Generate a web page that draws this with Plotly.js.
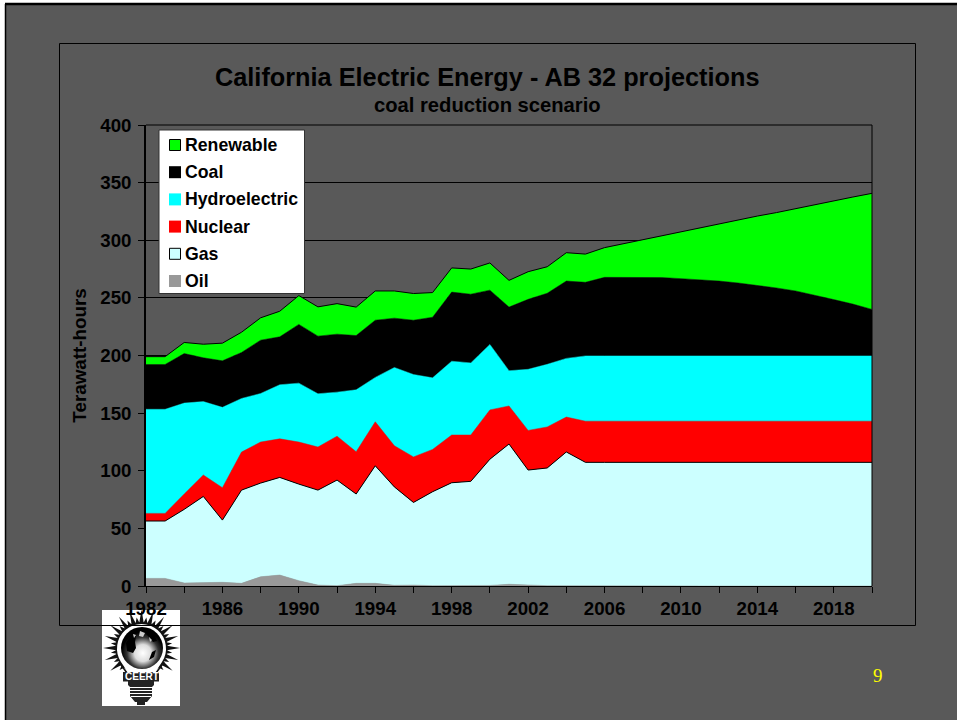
<!DOCTYPE html>
<html><head><meta charset="utf-8">
<script src="https://cdn.plot.ly/plotly-3.0.1.min.js"></script>
<style>html,body{margin:0;padding:0;background:#fff}#c{width:957px;height:720px}</style></head>
<body><div id="c"></div>
<script>
var years = [];
for (var yr = 1982; yr <= 2020; yr++) years.push(yr);
var tickYears = [1982,1984,1986,1988,1990,1992,1994,1996,1998,2000,2002,2004,2006,2008,2010,2012,2014,2016,2018,2020];
var labelYears = [1982,1986,1990,1994,1998,2002,2006,2010,2014,2018];
var oil = [6.6,6.6,2.6,2.6,3.2,2.3,8,9.5,4.6,0.8,0.3,2.3,2.3,0.6,0.8,0.3,0.2,0.2,0.5,1.5,0.8,0.3,0.2,0.1,0,0,0,0,0,0,0,0,0,0,0,0,0,0,0];
var gas = [49.8,49.8,63.9,75.1,54,80.9,81.3,84.7,83.8,82.4,91.6,77.5,102,85.4,71.7,81.5,89.4,90.6,109.5,121.7,99.8,102.1,116.1,107.2,107.3,107.3,107.3,107.3,107.3,107.3,107.3,107.3,107.3,107.3,107.3,107.3,107.3,107.3,107.3];
var nuclear = [6.6,6.6,13.3,18.6,28.1,33,35.6,33.5,36.5,37.4,38.1,36.7,38.2,35.7,39.5,36.7,41.4,40.2,42.8,33,34.4,35.6,30.3,35.7,35.7,35.7,35.7,35.7,35.7,35.7,35.7,35.7,35.7,35.7,35.7,35.7,35.7,35.7,35.7];
var hydro = [90.3,90.3,78.9,63.7,69.7,46.5,42.1,46.9,51.1,46.2,38.2,53.7,38.5,67.9,71.5,62.1,64,62.6,56.8,30.6,53,54.3,50.9,56.6,56.6,56.6,56.6,56.6,56.6,56.6,56.6,56.6,56.6,56.6,56.6,56.6,56.6,56.6,56.6];
var coal = [38.9,38.9,43,38,40.4,39.9,46.3,41.6,51,50,50.3,47.1,49.6,42.8,47.1,52.6,60,59.6,47.1,55.2,60.7,61.7,67.1,63.9,68.2,68.3,68.2,68,67.1,66.2,65,63.3,61.3,59,56.4,52.9,48.9,45,40.4];
var renewable = [6.8,6.8,9.6,11.8,15.3,17.6,19.4,22.2,25,25.4,26.5,24.7,25.4,23.6,23.2,21.4,21,21.8,23.6,23.2,24,23,24.6,24.5,25.8,29.1,32.7,36.4,40.8,45.2,49.9,55.1,60.1,65.4,71.5,78.5,85.5,92.9,100.7];
var seriesNames = ["Oil","Gas","Nuclear","Hydroelectric","Coal","Renewable"];
var seriesValues = [oil,gas,nuclear,hydro,coal,renewable];
var seriesColors = ["#999999","#ccffff","#ff0000","#00ffff","#000000","#00ff00"];
var seriesOutlined = [false,true,false,false,false,true];

var BG = "#595959", INK = "#000000", FONT = "'Liberation Sans', Arial, sans-serif";
var L = 146, R = 872, T = 125, B = 586;
function px(x){ return (x - L) / (R - L); }
function py(y){ return (B - y) / (B - T); }

var traces = seriesNames.map(function(n, i){
  return {
    x: years, y: seriesValues[i], name: n, type: "scatter", mode: "lines",
    stackgroup: "one", fillcolor: seriesColors[i],
    line: {color: seriesOutlined[i] ? "#000000" : seriesColors[i], width: seriesOutlined[i] ? 1 : 0.5},
    hoverinfo: "x+y+name"
  };
});

function rect(x0,y0,x1,y1,fill,line,w,layer){
  return {type:"rect",xref:"paper",yref:"paper",x0:px(x0),x1:px(x1),y0:py(y0),y1:py(y1),
    fillcolor:fill,line:{color:line||"rgba(0,0,0,0)",width:w===undefined?1:w},layer:layer||"above"};
}
function hv(x0,y0,x1,y1,w){
  return {type:"line",xref:"paper",yref:"paper",x0:px(x0),x1:px(x1),y0:py(y0),y1:py(y1),line:{color:"#000",width:w||1},layer:"above"};
}
function label(x,y,text,size,anchor,color,family,rot){
  return {xref:"paper",yref:"paper",x:px(x),y:py(y),text:text,showarrow:false,xanchor:anchor||"left",yanchor:"middle",
    textangle:rot||0,font:{family:family||FONT,size:size,color:color||INK}};
}

var shapes = [
  rect(0,0,957,3,"#ffffff",null,0,"below"),
  rect(0,0,5,720,"#ffffff",null,0,"below"),
  hv(5,4,957,4,2.5), hv(5.5,4,5.5,720,1.5),
  rect(59.5,43.5,915.5,625.5,"rgba(0,0,0,0)","#000000",1,"below"),
  rect(159,130,304.5,293.5,"#ffffff","#333333",1),
  hv(146,125,872,125,1), hv(872,125,872,586,1)
];
var annotations = [
  label(487.5,77,"<b>California Electric Energy - AB 32 projections</b>",25.3,"center"),
  label(487,105,"<b>coal reduction scenario</b>",20.2,"center"),
  label(878,675,"9",19,"center","#ffff00","'Liberation Serif', serif")
];
var legendTop = 145, legendStep = 27.2;
for (var i = 0; i < seriesNames.length; i++) {
  var k = seriesNames.length - 1 - i, cy = legendTop + i * legendStep;
  shapes.push(seriesOutlined[k]
    ? rect(169.5,cy-5.5,180.5,cy+5.5,seriesColors[k],"#000",1)
    : rect(169,cy-6,181,cy+6,seriesColors[k],null,0));
  annotations.push(label(183,cy,"<b>"+seriesNames[k]+"</b>",17.7));
}

// CEERT logo artwork
var rays = "";
for (var a = 0; a < 40; a++) {
  var t = a * Math.PI / 20, r1 = a % 2 ? 31 : 38.5;
  var dx = Math.cos(t), dy = Math.sin(t);
  if (dy > 0.75) continue;
  rays += "<path d='M"+(39.5+dx*24-dy*2.4)+" "+(38+dy*24+dx*2.4)+"L"+(39.5+dx*r1)+" "+(38+dy*r1)+"L"+(39.5+dx*24+dy*2.4)+" "+(38+dy*24-dx*2.4)+"Z' fill='#111'/>";
}
var logo = "<svg xmlns='http://www.w3.org/2000/svg' width='78' height='96' viewBox='0 0 78 96'>"+
  "<rect width='78' height='96' fill='#fff'/>"+rays+
  "<circle cx='39.5' cy='38' r='26' fill='#111'/>"+
  "<path d='M19 52L27 64H52L60 52A24.5 24.5 0 1 0 19 52Z' fill='#fff'/>"+
  "<path d='M17 52L25 63M62 52L54 63' stroke='#111' stroke-width='1.6'/>"+
  "<defs><radialGradient id='g' cx='.52' cy='.62' r='.5'><stop offset='0' stop-color='#fff'/><stop offset='.4' stop-color='#ddd'/><stop offset='.75' stop-color='#333'/><stop offset='1' stop-color='#000'/></radialGradient></defs>"+
  "<circle cx='40' cy='38' r='21' fill='url(#g)'/>"+
  "<path d='M24 33l5-8 5 1-1 6 1 6-3 5-6-2zM46 21l6 3 3 7-4 1-3-4-4-4zM50 42l4-2-2 7-5 3z' fill='#000'/>"+
  "<path d='M38 21l5 2-2 4-4-1zM47 27l3 3-2 2zM31 24l3 1-2 3z' fill='#ccc'/>"+
  "<rect x='21' y='62' width='36' height='9.5' fill='#222'/>"+
  "<path d='M26 71H52V75L50 77V86L45 92H33L28 86V77L26 75Z' fill='#222'/>"+
  "<path d='M28 77.5H50M28 80.5H50M28 83.5H50M29 86.5H49' stroke='#fff' stroke-width='1.2'/>"+
  "<rect x='35' y='91' width='8' height='4' fill='#222'/></svg>";
annotations.push({xref:"paper",yref:"paper",x:px(141.5),y:py(676.5),text:"<b>CEERT</b>",showarrow:false,xanchor:"center",yanchor:"middle",
  font:{family:FONT,size:10,color:"#fff"}});

var layout = {
  width: 957, height: 720, autosize: false, showlegend: false,
  paper_bgcolor: BG, plot_bgcolor: BG,
  margin: {l:L, r:957-R, t:T, b:720-B, pad:0},
  xaxis: {range:[1982,2020], tickmode:"array", tickvals:tickYears,
    ticktext:tickYears.map(function(v){return labelYears.indexOf(v)>=0?String(v):"";}),
    ticks:"outside", ticklen:6, tickwidth:1, tickcolor:"#000", showgrid:false, zeroline:false,
    showline:true, linecolor:"#000", linewidth:1, tickangle:0,
    tickfont:{family:FONT,size:18.7,color:INK,weight:"bold"}},
  yaxis: {range:[0,400], tickvals:[0,50,100,150,200,250,300,350,400], ticks:"outside", ticklen:6, tickwidth:1, tickcolor:"#000",
    showgrid:true, gridcolor:"#000", gridwidth:1, zeroline:false, showline:true, linecolor:"#000", linewidth:1.5,
    ticklabelstandoff:3,
    tickfont:{family:FONT,size:18.7,color:INK,weight:"bold"},
    title:{text:"<b>Terawatt-hours</b>",font:{family:FONT,size:18.8,color:INK},standoff:9}},
  shapes: shapes, annotations: annotations,
  images: [{source:"data:image/svg+xml;charset=utf-8,"+encodeURIComponent(logo),xref:"paper",yref:"paper",
    x:px(102),y:py(610),sizex:78/(R-L),sizey:96/(B-T),xanchor:"left",yanchor:"top",sizing:"stretch",layer:"below"}]
};
Plotly.newPlot("c", traces, layout, {displayModeBar:false, responsive:false});
</script></body></html>
